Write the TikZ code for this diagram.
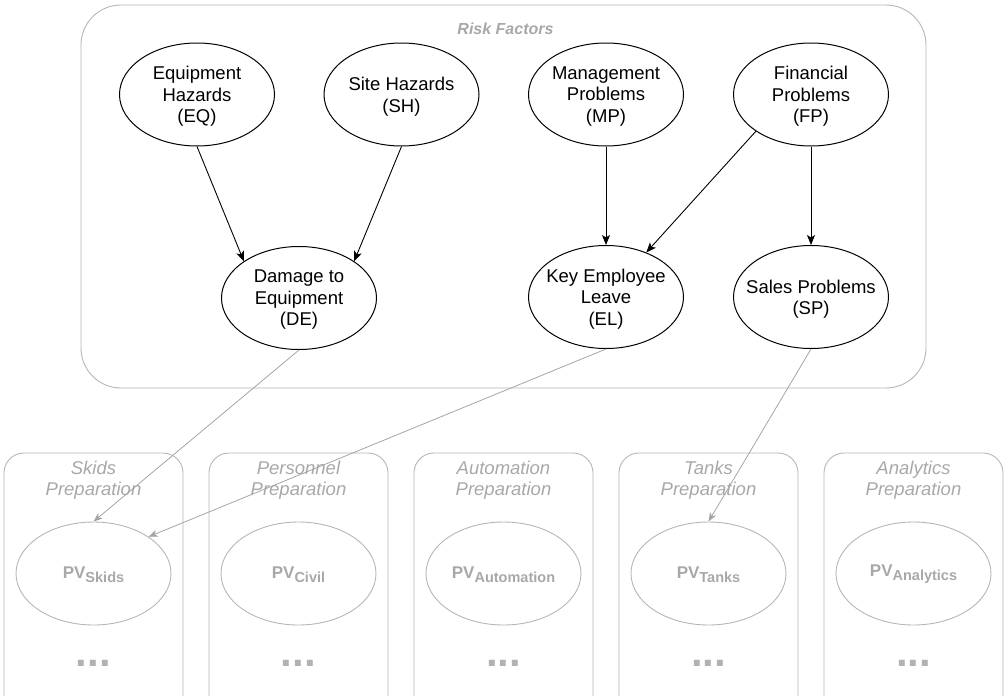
\documentclass[tikz,border=0pt]{standalone}
\usepackage{fontspec}
\setmainfont{Liberation Sans}
\usetikzlibrary{shapes.geometric,arrows.meta}
\definecolor{bordergray}{RGB}{182,182,182}
\definecolor{textgray}{RGB}{168,168,168}
\definecolor{dotgray}{RGB}{178,178,178}
\definecolor{arrowgray}{RGB}{165,165,165}
\tikzset{
  ell/.style={ellipse, draw=black, line width=1pt, minimum width=155pt, minimum height=103pt, inner sep=0pt},
  gell/.style={ellipse, draw=bordergray, line width=0.9pt, minimum width=155pt, minimum height=103pt, inner sep=0pt},
  rtxt/.style={align=center, font=\fontsize{18.5}{21.5}\selectfont, text=black, inner sep=0pt, yshift=-2pt},
  gtxt/.style={align=center, font=\fontsize{18.5}{21.5}\selectfont\itshape, text=textgray, inner sep=0pt},
  pvtxt/.style={font=\fontsize{17}{18}\selectfont\bfseries, text=textgray, inner sep=0pt, yshift=-1pt},
  dots/.style={font=\fontsize{42}{42}\selectfont\bfseries, text=dotgray, inner sep=0pt, anchor=base},
  arr/.style={line width=0.9pt, draw=black, -{Stealth[length=10pt,width=8pt,inset=2.5pt]}},
  garr/.style={line width=0.8pt, draw=arrowgray, -{Stealth[length=9pt,width=7pt,inset=2.5pt]}},
  lane/.style={draw=bordergray, line width=0.9pt, rounded corners=20pt},
}
\newcommand{\pvsub}[1]{PV\raisebox{-4pt}{\fontsize{14.5}{14.5}\selectfont\bfseries #1}}
\begin{document}
\begin{tikzpicture}[x=1pt,y=-1pt]
\useasboundingbox (0,0) rectangle (1005,696);
% Risk factors container
\draw[draw=bordergray, line width=0.9pt, rounded corners=40pt] (81,5) rectangle (926,388);
\node[font=\fontsize{16}{18}\selectfont\bfseries\itshape, text=textgray, inner sep=0pt] (rflabel) at (505.5,29) {Risk Factors};
% lanes
\foreach \cx/\nm/\ttl in {93.5/skids/Skids, 298.5/civil/Personnel, 503.5/auto/Automation, 708.5/tanks/Tanks, 913.5/analytics/Analytics}{
  \draw[lane] (\cx-89.5,700) -- (\cx-89.5,453) -- (\cx+89.5,453) -- (\cx+89.5,700);
  \node[gtxt] (title-\nm) at (\cx,480) {\ttl\\Preparation};
  \node[dots] (dots-\nm) at (\cx,666.5) {...};
}
% top row
\node[ell, label={[rtxt]center:{Equipment\\Hazards\\(EQ)}}] (EQ) at (197,94.5) {};
\node[ell, label={[rtxt]center:{Site Hazards\\(SH)}}] (SH) at (401.5,94.5) {};
\node[ell, label={[rtxt]center:{Management\\Problems\\(MP)}}] (MP) at (606,94.5) {};
\node[ell, label={[rtxt]center:{Financial\\Problems\\(FP)}}] (FP) at (811,94.5) {};
% second row
\node[ell, label={[rtxt]center:{Damage to\\Equipment\\(DE)}}] (DE) at (299,298) {};
\node[ell, label={[rtxt]center:{Key Employee\\Leave\\(EL)}}] (EL) at (606,297) {};
\node[ell, label={[rtxt]center:{Sales Problems\\(SP)}}] (SP) at (811,297) {};
% bottom ellipses
\node[gell, label={[pvtxt]center:{\pvsub{Skids}}}] (PVs) at (93.5,573.5) {};
\node[gell, label={[pvtxt]center:{\pvsub{Civil}}}] (PVc) at (298.5,573.5) {};
\node[gell, label={[pvtxt]center:{\pvsub{Automation}}}] (PVa) at (503.5,573.5) {};
\node[gell, label={[pvtxt]center:{\pvsub{Tanks}}}] (PVt) at (708.5,573.5) {};
\node[gell, label={[pvtxt]center:{\pvsub{Analytics}}}] (PVn) at (913.5,573.5) {};
% black arrows
\draw[arr] (EQ.south) -- (DE.north west);
\draw[arr] (SH.south) -- (DE.north east);
\draw[arr] (MP.south) -- (EL.north);
\draw[arr] (FP.south west) -- (EL);
\draw[arr] (FP.south) -- (SP.north);
% grey arrows
\draw[garr] (DE.south) -- (PVs.north);
\draw[garr] (EL.south) -- (PVs.north east);
\draw[garr] (SP.south) -- (PVt.north);
\end{tikzpicture}
\end{document}
